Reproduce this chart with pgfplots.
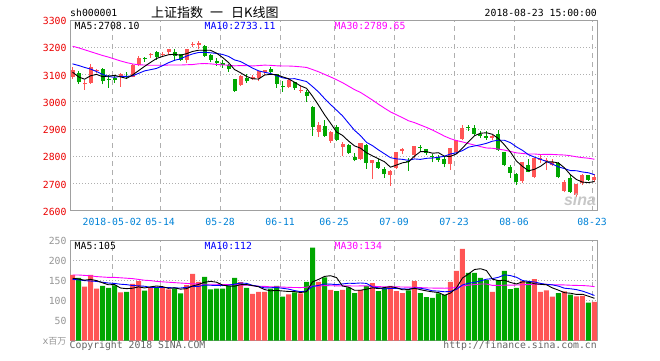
\documentclass[border=0pt]{standalone}
\usepackage{fontspec}
\usepackage{pgfplots}
\usepackage{pgfplotstable}
\pgfplotsset{compat=1.18}
\setmainfont{DejaVu Sans Mono}
\newfontfamily\cjk{Noto Sans CJK SC}
\newfontfamily\wm{Liberation Sans}
\definecolor{upred}{RGB}{255,85,85}
\definecolor{dngreen}{RGB}{0,166,0}
\definecolor{tickred}{RGB}{235,0,0}
\definecolor{dateblue}{RGB}{0,130,215}
\definecolor{framegray}{RGB}{160,160,160}
\definecolor{gridgray}{RGB}{175,175,175}
\definecolor{labgray}{RGB}{150,150,150}
\definecolor{txtgray}{RGB}{100,100,100}
\definecolor{mablue}{RGB}{0,0,255}
\definecolor{mamag}{RGB}{255,0,255}

% up (red) candles: index, open, high, low, close, volume
\pgfplotstableread{
i O H L C V
0 3092 3127 3085 3117.38 163
2 3064 3081 3045 3068.01 134
3 3070 3140 3066 3128.93 163
4 3113 3121 3104 3117.97 129
8 3093 3104 3056 3100.86 120
10 3092 3137 3090 3136.65 141
11 3136 3167 3130 3161.50 148
13 3170 3179 3160 3174.41 133
15 3171 3184 3164 3174.03 133
16 3182 3194 3170 3192.12 127
19 3154 3194 3143 3193.30 138
20 3209 3219 3201 3213.84 166
21 3210 3223 3193 3214.35 146
28 3062 3098 3058 3095.47 145
30 3083 3098 3080 3091.19 116
31 3086 3114 3075 3114.21 121
32 3111 3118 3100 3115.18 121
36 3056 3083 3050 3079.80 115
38 3041 3058 3033 3044.16 117
41 2891 2925 2871 2915.73 146
43 2857 2893 2850 2889.76 126
45 2835 2852 2802 2844.51 126
48 2789 2848 2787 2847.42 126
50 2775 2787 2717 2786.89 143
53 2733 2749 2691 2747.23 136
54 2756 2817 2754 2815.11 123
55 2821 2831 2810 2827.63 118
57 2805 2840 2795 2837.66 148
63 2771 2832 2750 2829.27 146
64 2817 2862 2810 2859.54 173
65 2864 2915 2860 2905.56 228
70 2868 2880 2860 2876.40 121
75 2711 2780 2702 2779.37 148
77 2726 2796 2720 2794.38 153
78 2788 2808 2776 2795.31 121
79 2782 2795 2750 2785.87 125
80 2770 2790 2765 2780.96 109
82 2674 2714 2668 2705.19 122
84 2660 2700 2653 2698.47 110
85 2701 2737 2695 2733.34 111
87 2714 2736 2707 2724.62 96
}\up

% down (green) candles
\pgfplotstableread{
i O H L C V
1 3107 3113 3066 3071.54 156
5 3120 3124 3064 3075.03 136
6 3085 3097 3052 3082.23 131
7 3089 3094 3069 3081.18 137
9 3096 3108 3084 3091.03 121
12 3162 3166 3146 3159.15 124
14 3183 3185 3155 3163.26 132
17 3183 3193 3150 3169.57 130
18 3174 3175 3150 3154.28 117
22 3205 3209 3165 3168.96 158
23 3172 3176 3145 3154.65 127
24 3150 3159 3133 3141.30 129
25 3143 3153 3125 3135.08 129
26 3135 3139 3109 3120.46 135
27 3083 3085 3037 3041.44 156
29 3087 3102 3069 3075.14 131
33 3121 3128 3104 3109.50 129
34 3101 3102 3051 3067.15 136
35 3058 3075 3037 3052.78 109
37 3071 3073 3044 3049.80 120
39 3037 3045 3000 3021.90 146
40 2981 2983 2875 2907.82 231
42 2911 2935 2872 2875.81 157
44 2907 2915 2855 2859.34 123
46 2842 2846 2809 2813.18 132
47 2799 2813 2782 2786.90 118
49 2842 2846 2755 2775.56 136
51 2778 2790 2755 2759.13 123
52 2754 2760 2722 2733.88 131
56 2782 2794 2748 2777.77 125
58 2834 2843 2820 2831.18 118
59 2826 2828 2806 2814.04 108
60 2803 2808 2778 2798.13 106
61 2799 2806 2780 2787.26 117
62 2790 2800 2760 2772.55 113
66 2909 2916 2895 2903.65 168
67 2903 2916 2880 2882.23 168
68 2884 2892 2866 2873.59 156
69 2874 2892 2862 2869.05 150
71 2882 2897 2821 2824.53 150
72 2817 2818 2764 2768.02 173
73 2760 2769 2721 2740.44 128
74 2736 2740 2695 2705.16 131
76 2769 2790 2742 2744.07 146
81 2776 2779 2720 2723.26 118
83 2722 2735 2666 2668.97 114
86 2731 2733 2710 2714.61 94
}\dn

% moving averages: price MA5/10/30, volume MA5/10/30
\pgfplotstableread{
i ma5 ma10 ma30 vma5 vma10 vma30
0 3109.06 3139.32 3204 155 152 163
1 3091.55 3133.37 3198 153 151 163
2 3083.03 3126.34 3191 150 149 162
3 3095.45 3120.20 3184 152 148 161
4 3100.77 3111.19 3177 149 147 159
5 3092.30 3100.68 3170 143.6 145 158
6 3094.43 3092.99 3164 138.6 143 157
7 3097.07 3090.05 3157 139.2 142 157
8 3091.45 3093.45 3150 130.6 140 156
9 3086.07 3093.42 3144 129 139 155
10 3098.39 3095.34 3139 130 136.8 154
11 3114.24 3104.34 3136 133.4 136 152
12 3129.84 3113.45 3135 130.8 135 150
13 3144.55 3118.00 3134 133.4 132 149
14 3158.99 3122.53 3134 135.6 132.3 147
15 3166.47 3132.43 3134 134 132 146
16 3172.59 3143.42 3135 129.8 131.6 145
17 3174.68 3152.26 3135 131 130.9 144
18 3170.65 3157.60 3135 127.8 130.6 143
19 3176.66 3167.83 3136 129 132.3 142
20 3184.62 3175.55 3136.74 135.6 134.8 141
21 3189.07 3180.83 3139.51 139.4 134.6 141
22 3188.95 3181.81 3140.53 145 138 140
23 3189.02 3179.84 3139.35 147 137.4 140
24 3178.62 3177.64 3137.12 145.2 137.1 140
25 3162.87 3173.75 3135.62 137.8 136.7 139
26 3144.09 3166.58 3134.33 135.6 137.5 139
27 3118.59 3153.77 3132.03 135.2 140.1 139
28 3106.75 3147.89 3132.98 138.8 142.9 138
29 3093.52 3136.07 3132.44 139.2 142.2 137.8
30 3084.74 3123.80 3131.56 136.6 137.2 136.3
31 3083.49 3113.79 3132.99 133.8 134.7 135.1
32 3098.24 3108.41 3134.56 126.8 131 134.7
33 3101.04 3103.90 3133.91 123.6 131.2 133.5
34 3099.45 3096.48 3132.22 124.6 131.9 133.8
35 3091.76 3088.25 3131.48 123.2 129.9 132.9
36 3084.88 3084.19 3131.40 122 127.9 132.3
37 3071.81 3085.02 3130.35 121.8 124.3 131.8
38 3058.74 3079.89 3128.46 119.4 121.5 131.7
39 3049.69 3074.57 3126.16 121.4 123 132.5
40 3020.70 3056.23 3118.53 145.8 134.5 135.5
41 2987.88 3036.38 3110.33 152 137 135.4
42 2953.08 3012.45 3100.89 159.4 140.6 136.5
43 2922.20 2990.47 3091.40 161.2 140.3 136.3
44 2889.69 2969.69 3081.27 156.6 139 136
45 2877.03 2948.86 3070.29 135.6 140.7 135.8
46 2856.52 2922.20 3057.66 132.8 142.4 135.9
47 2838.74 2895.91 3044.90 125 142.2 135.5
48 2830.27 2876.24 3034.67 125 143.1 135.8
49 2813.51 2851.60 3020.75 127.6 142.1 135.8
50 2801.99 2839.51 3006.51 131 133.3 135
51 2791.18 2823.85 2991.34 129.2 131 134.2
52 2780.58 2809.66 2976.84 131.8 128.4 133.3
53 2760.54 2795.40 2963.26 133.8 129.4 133.6
54 2768.45 2790.98 2952.38 131.2 129.4 133.4
55 2776.60 2789.29 2942.13 126.2 128.6 133.1
56 2780.32 2785.75 2930.71 126.6 127.9 132.7
57 2801.08 2790.83 2923.92 130 130.9 132.5
58 2817.87 2789.20 2915.11 126.4 130.1 131.6
59 2817.66 2793.05 2906.41 123.4 127.3 130.8
60 2811.76 2794.18 2896.64 121 123.6 130.5
61 2813.65 2796.99 2885.74 119.4 123 130.3
62 2800.63 2800.86 2874.32 112.4 121.2 130.1
63 2800.25 2809.06 2864.98 118 122.2 130.6
64 2809.35 2813.50 2858.06 131 127.2 131.9
65 2830.84 2821.30 2853.15 155.4 138.2 135.8
66 2854.11 2833.88 2847.28 165.6 142.5 137.6
67 2876.05 2838.34 2841.69 176.6 144.5 139.2
68 2884.91 2842.58 2836.01 178.6 148.3 140.5
69 2886.82 2848.08 2830.91 174 152.5 140.6
70 2880.98 2855.91 2829.87 152.6 154 137
71 2865.16 2859.64 2826.83 149 157.3 137.1
72 2842.32 2859.18 2823.23 150 163.3 137.6
73 2815.69 2850.30 2818.25 144.4 161.5 137.7
74 2782.91 2834.86 2813.11 140.6 157.3 138
75 2763.50 2822.24 2810.94 146 149.3 138.7
76 2747.41 2806.29 2808.64 145.2 147.1 139.2
77 2752.68 2797.50 2808.89 141.2 145.6 140.3
78 2763.66 2789.67 2807.15 139.8 142.1 140.2
79 2779.80 2781.36 2807.50 138.6 139.6 139.8
80 2780.12 2771.81 2807.30 130.8 138.4 138.7
81 2775.96 2761.68 2806.10 125.2 135.2 138.5
82 2758.12 2755.40 2805.15 119 130.1 138.2
83 2732.85 2748.25 2802.54 117.6 128.7 137.5
84 2715.37 2747.59 2798.65 114.6 126.6 137
85 2705.85 2742.98 2795.51 115 122.9 136.8
86 2704.12 2740.04 2793.40 110.2 117.7 135.8
87 2708.00 2733.06 2789.63 105 112 134.0
}\ma

\pgfplotsset{
  sina/.style={
    scale only axis, width=527pt,
    xmin=-0.42, xmax=87.42,
    axis line style={framegray, line width=1pt},
    xtick={6.6,14.6,24.6,34.6,43.6,53.6,63.6,73.6,86.6},
    major tick length=0pt,
    xmajorgrids, ymajorgrids,
    major x grid style={gridgray, line width=1pt, dash pattern=on 5pt off 4pt},
    major y grid style={gridgray, line width=1pt, dash pattern=on 1pt off 2pt},
    tick label style={font=\fontsize{9.8}{12}\selectfont},
    yticklabel style={yshift=-1pt},
  },
  wick/.style={draw=none, mark=none, forget plot,
    error bars/.cd, y dir=plus, y explicit, error mark=none,
    error bar style={draw=#1, line width=1pt}},
  body/.style={draw=none, mark=none, forget plot,
    error bars/.cd, y dir=plus, y explicit, error mark=none,
    error bar style={draw=#1, line width=4pt}},
  maline/.style={draw=#1, line width=0.9pt, mark=none, forget plot},
}
\newcommand\rl[1]{\textcolor{tickred}{#1}}
\newcommand\bl[1]{\textcolor{dateblue}{#1}}
\newcommand\gl[1]{\textcolor{labgray}{#1}}

\begin{document}
\begin{tikzpicture}
\useasboundingbox (0pt,0pt) rectangle (660pt,-360pt);

\begin{axis}[sina, at={(70pt,-20pt)}, anchor=north west, height=191pt,
  ymin=2600, ymax=3300, ytick={2600,2700,...,3300},
  yticklabels={\rl{2600},\rl{2700},\rl{2800},\rl{2900},\rl{3000},\rl{3100},\rl{3200},\rl{3300}},
  xticklabels={\bl{2018-05-02},\bl{05-14},\bl{05-28},\bl{06-11},\bl{06-25},\bl{07-09},\bl{07-23},\bl{08-06},\bl{08-23}},
  xticklabel style={anchor=base, yshift=-14pt},
]
\addplot[wick=upred] table[x=i, y=L, y error expr=\thisrow{H}-\thisrow{L}] {\up};
\addplot[body=upred] table[x=i, y=O, y error expr=\thisrow{C}-\thisrow{O}] {\up};
\addplot[wick=dngreen] table[x=i, y=L, y error expr=\thisrow{H}-\thisrow{L}] {\dn};
\addplot[body=dngreen] table[x=i, y=C, y error expr=\thisrow{O}-\thisrow{C}] {\dn};
\addplot[maline=mamag] table[x=i, y=ma30] {\ma};
\addplot[maline=mablue] table[x=i, y=ma10] {\ma};
\addplot[maline=black] table[x=i, y=ma5] {\ma};
\end{axis}

\begin{axis}[sina, at={(70pt,-240pt)}, anchor=north west, height=100.5pt,
  ymin=0, ymax=250, ytick={0,50,...,250},
  yticklabels={\gl{x{\cjk\fontsize{9}{9}\selectfont 百万}},\gl{50},\gl{100},\gl{150},\gl{200},\gl{250}},
  xticklabels={},
]
\addplot[ybar, bar width=5pt, bar shift=0pt, fill=upred, draw=none, forget plot] table[x=i, y=V] {\up};
\addplot[ybar, bar width=5pt, bar shift=0pt, fill=dngreen, draw=none, forget plot] table[x=i, y=V] {\dn};
\addplot[maline=mamag] table[x=i, y=vma30] {\ma};
\addplot[maline=mablue] table[x=i, y=vma10] {\ma};
\addplot[maline=black] table[x=i, y=vma5] {\ma};
\end{axis}

\tikzset{lab/.style={inner sep=0pt, font=\fontsize{9.8}{12}\selectfont}}
\node[lab, anchor=base west] at (70pt,-16.8pt) {sh000001};
\node[inner sep=0pt, anchor=base west, font=\cjk\fontsize{13}{13}\selectfont] at (151pt,-17.5pt) {上证指数\hspace{7pt}一\hspace{8pt}日K线图};
\node[lab, anchor=base east] at (597pt,-16.3pt) {2018-08-23 15:00:00};
\node[lab, anchor=base west] at (74.5pt,-29.5pt) {MA5:2708.10};
\node[lab, anchor=base west, text=mablue] at (204.5pt,-29.5pt) {MA10:2733.11};
\node[lab, anchor=base west, text=mamag] at (334.5pt,-29.5pt) {MA30:2789.65};
\node[lab, anchor=base west] at (74.5pt,-249.5pt) {MA5:105};
\node[lab, anchor=base west, text=mablue] at (204.5pt,-249.5pt) {MA10:112};
\node[lab, anchor=base west, text=mamag] at (334.5pt,-249.5pt) {MA30:134};
\node[lab, anchor=base west, text=txtgray] at (69.5pt,-348.5pt) {Copyright 2018 SINA.COM};
\node[lab, anchor=base east, text=txtgray] at (597pt,-348.5pt) {http://finance.sina.com.cn};
\node[inner sep=0pt, anchor=base, text=black!22, font=\wm\bfseries\itshape\fontsize{16}{16}\selectfont] at (580pt,-205.5pt) {sina};
\end{tikzpicture}
\end{document}
